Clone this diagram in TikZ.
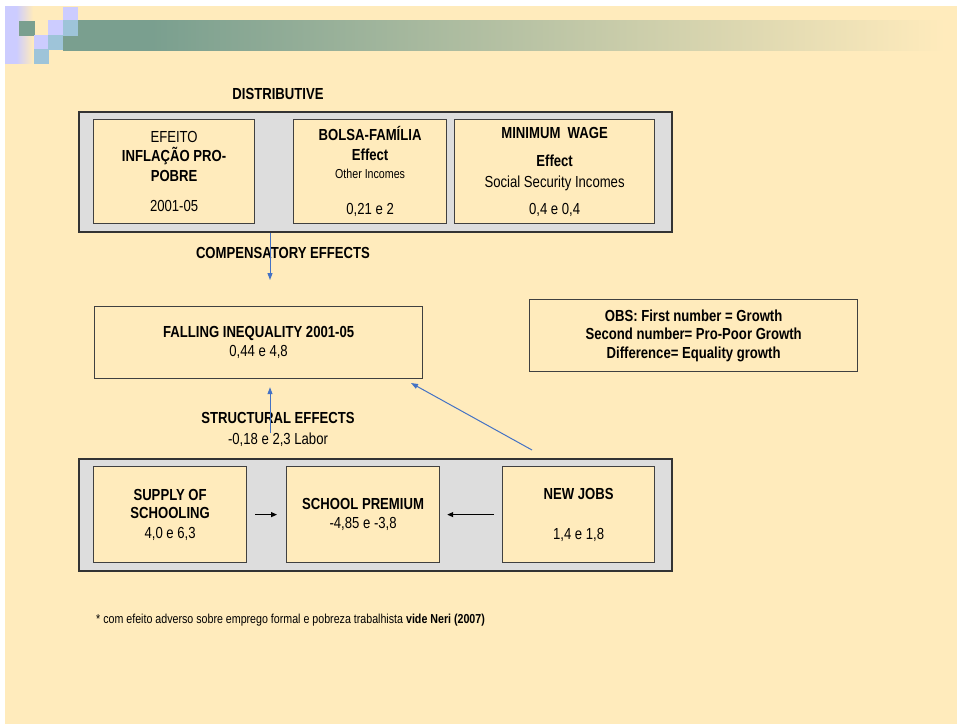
\documentclass[tikz,border=0pt]{standalone}
\usepackage{fontspec}
\setmainfont{Liberation Sans}[FakeStretch=0.82]
\usetikzlibrary{arrows.meta}
\definecolor{cream}{RGB}{255,235,188}
\definecolor{panelgrey}{RGB}{221,221,221}
\definecolor{bargreen}{RGB}{122,159,143}
\definecolor{lavender}{RGB}{204,204,255}
\definecolor{tileblue}{RGB}{158,196,217}
\definecolor{linkblue}{RGB}{68,114,196}
\pgfdeclarehorizontalshading{barfade}{100bp}{color(0bp)=(bargreen); color(30bp)=(bargreen); color(75bp)=(cream); color(100bp)=(cream)}
\pgfdeclarehorizontalshading{tilefade}{100bp}{color(0bp)=(lavender); color(45bp)=(lavender); color(75bp)=(cream); color(100bp)=(cream)}
\tikzset{
	panel/.style={draw=black!80,line width=1.5pt,fill=panelgrey,anchor=north west,inner sep=0pt},
	card/.style={draw=black!75,line width=1.2pt,fill=cream,anchor=north west,align=center,inner sep=0pt,font=\fontsize{16}{19}\selectfont},
	lbl/.style={inner sep=0pt,align=center,font=\fontsize{16}{19}\selectfont},
	bluelink/.style={draw=linkblue,line width=1pt,-{Triangle[length=7pt,width=5pt]}},
	blacklink/.style={draw=black,line width=1pt,-{Triangle[length=6pt,width=5pt]}}
}
\begin{document}
\begin{tikzpicture}[x=1pt,y=-1pt]
		\useasboundingbox (0,0) rectangle (957,724);
		\fill[white] (0,0) rectangle (957,724);
		\fill[cream] (5,6) rectangle (957,724);
		% header tiles
		\shade[shading=tilefade] (5,6) rectangle (33,63);
		\shade[shading=barfade] (63,20) rectangle (945,50);
		\fill[bargreen] (19,21) rectangle (35,36);
		\fill[lavender] (63,7) rectangle (78,20);
		\fill[lavender] (48,20) rectangle (63,36);
		\fill[lavender] (34,35) rectangle (48,49);
		\fill[tileblue] (63,20) rectangle (78,36);
		\fill[tileblue] (48,35) rectangle (63,50);
		\fill[tileblue] (34,49) rectangle (49,64);
		
		\node[lbl] (distlabel) at (278,94) {\textbf{DISTRIBUTIVE}};
		\node[panel,minimum width=593,minimum height=120] (distrib) at (78,111) {};
		\node[card,minimum width=161,minimum height=104] (inflacao) at (93,119) {EFEITO\\ \textbf{INFLAÇÃO PRO-}\\[1pt] \textbf{POBRE}\\[11pt] 2001-05};
		\node[card,minimum width=153,minimum height=104] (bolsa) at (293,119) {\textbf{BOLSA-FAMÍLIA}\\[1pt] \textbf{Effect}\\[-1pt] {\fontsize{13}{15}\selectfont Other Incomes}\\[17pt] 0,21 e 2};
		\node[card,minimum width=200,minimum height=104] (minwage) at (454,119) {\textbf{MINIMUM\ \ WAGE}\\[9pt] \textbf{Effect}\\[2pt] Social Security Incomes\\[8pt] 0,4 e 0,4};
		\node[lbl] (complabel) at (283,253) {\textbf{COMPENSATORY EFFECTS}};
		
		\node[card,minimum width=328,minimum height=72] (falling) at (94,306) {\textbf{FALLING INEQUALITY 2001-05}\\ 0,44 e 4,8};
		\node[card,minimum width=328,minimum height=72] (obs) at (529,299) {\textbf{OBS: First number = Growth}\\[-0.5pt] \textbf{Second number= Pro-Poor Growth}\\[-0.5pt] \textbf{Difference= Equality growth}};
		\node[lbl] (structlabel) at (278,429) {\textbf{STRUCTURAL EFFECTS}\\[2pt] -0,18 e 2,3 Labor};
		
		\node[panel,minimum width=593,minimum height=112] (structural) at (78,458) {};
		\node[card,minimum width=153,minimum height=96] (supply) at (93,466) {\textbf{SUPPLY OF}\\[-1pt] \textbf{SCHOOLING}\\[1pt] 4,0 e 6,3};
		\node[card,minimum width=153,minimum height=96] (premium) at (286,466) {\textbf{SCHOOL PREMIUM}\\ -4,85 e -3,8};
		\node[card,minimum width=152,minimum height=96] (newjobs) at (502,466) {\textbf{NEW JOBS}\\[21pt] 1,4 e 1,8};
		
		\node[anchor=west,inner sep=0pt,font=\fontsize{13}{15}\selectfont] (footnote) at (96,620) {* com efeito adverso sobre emprego formal e pobreza trabalhista \textbf{vide Neri (2007)}};
		
		\coordinate (compend) at (270,280);
		\coordinate (structstart) at (270,433);
		\coordinate (jobsstart) at (532,450);
		\coordinate (jobstip) at (411,383);
		\draw[bluelink] (distrib.south -| compend) -- (compend);
		\draw[bluelink,shorten >=8pt] (structstart) -- (falling.south -| structstart);
		\draw[bluelink] (jobsstart) -- (jobstip);
		\draw[blacklink,shorten <=8pt,shorten >=9pt] (supply.east) -- (premium.west);
		\draw[blacklink,shorten <=8pt,shorten >=7pt] (newjobs.west) -- (premium.east);
		
\end{tikzpicture}
\end{document}
